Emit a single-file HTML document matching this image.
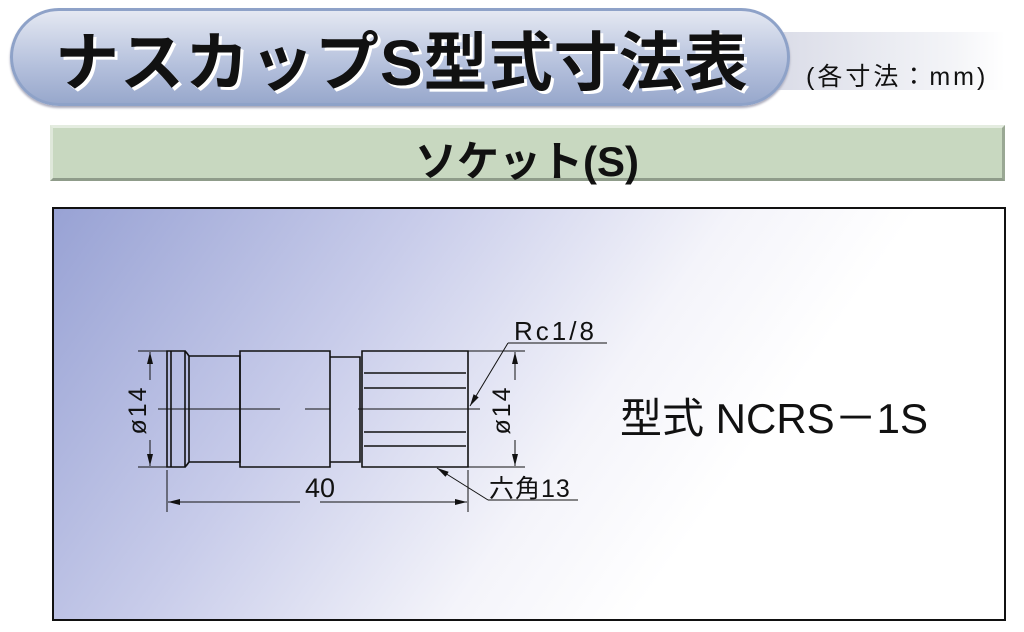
<!DOCTYPE html>
<html><head><meta charset="utf-8"><style>
body{margin:0;width:1024px;height:632px;background:#fff;position:relative;overflow:hidden;font-family:"Liberation Sans","Noto Sans CJK JP",sans-serif}
.strip{position:absolute;left:760px;top:32px;width:245px;height:58px;background:linear-gradient(90deg,#d8dae6,#f4f5f8 80%,#fff)}
.pill{position:absolute;left:10px;top:8px;width:780px;height:98px;border-radius:50px;background:linear-gradient(180deg,#e4e8f2 0%,#b4c0dc 60%,#98a8cc 100%);border:3px solid #8ea2c8;box-sizing:border-box;box-shadow:0 2px 2px #aab}
.title{position:absolute;left:55px;top:12px;font-size:64px;font-weight:bold;color:#111;text-shadow:3px 3px 0 #fff;letter-spacing:1px}
.unit{position:absolute;left:806px;top:57px;font-size:25px;color:#111;letter-spacing:3px}
.green{position:absolute;left:50px;top:125px;width:955px;height:56px;background:#c8d8c0;border-top:3px solid #e4ece0;border-left:3px solid #dfe8da;border-right:3px solid #9aa894;border-bottom:3px solid #8f9c8a;box-sizing:border-box}
.gt{position:absolute;left:415px;top:128px;font-size:42px;font-weight:bold;color:#111}
.box{position:absolute;left:52px;top:207px;width:954px;height:414px;border:2px solid #111;box-sizing:border-box;background:linear-gradient(125deg,#98a2d4 0%,#c8ccea 30%,#f4f4fa 55%,#fff 70%)}
.model{position:absolute;left:620px;top:385px;font-size:42px;color:#111}
</style></head><body>
<div class="strip"></div>
<div class="pill"></div>
<div class="title">ナスカップS型式寸法表</div>
<div class="unit">(各寸法：mm)</div>
<div class="green"></div>
<div class="gt">ソケット(S)</div>
<div class="box"></div>
<svg width="1024" height="632" style="position:absolute;left:0;top:0">
<defs><marker id="a" markerWidth="12" markerHeight="6" refX="12" refY="3" orient="auto" markerUnits="userSpaceOnUse"><path d="M0,0L12,3L0,6z" fill="#111"/></marker></defs>
<g stroke="#111" fill="none" stroke-width="1.6">
<path d="M167,351H185V467H167Z M171,351V467 M189,356H240V462H189Z M185,351Q187,353 189,356 M185,467Q187,465 189,462"/>
<path d="M240,351H330V467H240Z M330,357H360V462H330Z M362,351H468V467H362Z"/>
<path d="M364,373H466 M364,388H466 M364,432H466 M364,446H466"/>
</g>
<g stroke="#111" stroke-width="1" fill="none">
<path d="M158,409H280 M305,409H330 M358,409H480"/>
<path d="M138,351H167 M138,467H167 M468,351H525 M468,467H525 M167,470V512 M468,470V512"/>
<line x1="150" y1="380" x2="150" y2="352" marker-end="url(#a)"/>
<line x1="150" y1="440" x2="150" y2="466" marker-end="url(#a)"/>
<line x1="515" y1="380" x2="515" y2="352" marker-end="url(#a)"/>
<line x1="515" y1="440" x2="515" y2="466" marker-end="url(#a)"/>
<line x1="300" y1="502" x2="168" y2="502" marker-end="url(#a)"/>
<line x1="320" y1="502" x2="467" y2="502" marker-end="url(#a)"/>
<path d="M607,343H508"/>
<line x1="508" y1="343" x2="470" y2="406" marker-end="url(#a)"/>
<path d="M578,500H488"/>
<line x1="488" y1="500" x2="437" y2="468" marker-end="url(#a)"/>
</g>
<g font-family="Liberation Sans, Noto Sans CJK JP, sans-serif" fill="#111">
<text x="320" y="497" font-size="27" text-anchor="middle">40</text>
<text x="514" y="340" font-size="26" letter-spacing="3">Rc1/8</text>
<text x="489" y="497" font-size="25" letter-spacing="1">六角13</text>
<text transform="translate(146,410) rotate(-90)" font-size="25" letter-spacing="2" text-anchor="middle">ø14</text>
<text transform="translate(510,410) rotate(-90)" font-size="25" letter-spacing="2" text-anchor="middle">ø14</text>
</g>
</svg>
<div class="model">型式 NCRS－1S</div>
</body></html>
